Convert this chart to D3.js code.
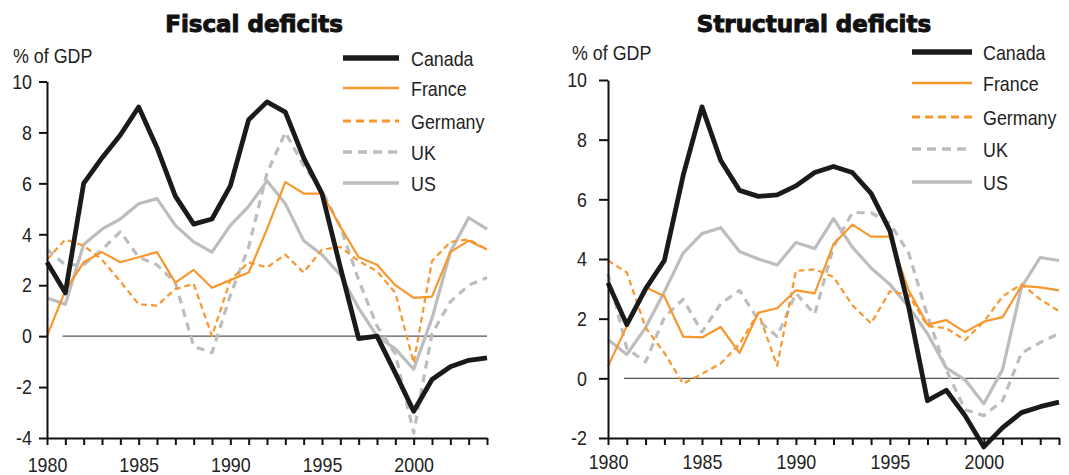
<!DOCTYPE html>
<html><head><meta charset="utf-8">
<script src="https://cdn.jsdelivr.net/npm/d3@7"></script>
<style>
body{margin:0;background:#fff}
svg text{font-family:"Liberation Sans Narrow","Arial Narrow","Liberation Sans",sans-serif;fill:#222}
</style>
</head><body>
<svg id="c" width="1069" height="475"></svg>
<script>
// ---------- data ----------
const years = d3.range(1980, 2005);
const seriesNames = ["Canada", "France", "Germany", "UK", "US"];

const fiscalCanada  = [2.9, 1.7, 6.0, 7.0, 7.9, 9.0, 7.4, 5.5, 4.4, 4.6, 5.9, 8.5, 9.2, 8.8, 7.0, 5.6, 2.7, -0.1, 0.0, -1.45, -2.95, -1.7, -1.2, -0.95, -0.85];
const fiscalFrance  = [0.0, 1.8, 2.9, 3.3, 2.9, 3.1, 3.3, 2.1, 2.6, 1.9, 2.2, 2.5, 4.2, 6.05, 5.6, 5.6, 4.3, 3.1, 2.8, 2.0, 1.5, 1.55, 3.3, 3.75, 3.4];
const fiscalGermany = [3.0, 3.8, 3.55, 3.0, 2.15, 1.25, 1.2, 1.85, 2.05, 0.0, 2.2, 2.9, 2.7, 3.2, 2.5, 3.4, 3.5, 2.95, 2.55, 1.7, -1.05, 2.95, 3.7, 3.8, 3.4];
const fiscalUK      = [3.4, 2.8, 2.8, 3.4, 4.1, 3.1, 2.8, 2.1, -0.4, -0.65, 1.6, 3.5, 6.4, 8.0, 6.7, 5.7, 4.3, 2.2, 0.4, -0.7, -3.8, 0.1, 1.35, 2.0, 2.3];
const fiscalUS      = [1.5, 1.25, 3.6, 4.2, 4.6, 5.2, 5.4, 4.35, 3.7, 3.3, 4.35, 5.1, 6.1, 5.2, 3.75, 3.2, 2.4, 1.1, 0.0, -0.5, -1.3, 0.7, 3.3, 4.65, 4.2];

const structCanada  = [3.2, 1.8, 3.0, 3.95, 6.8, 9.1, 7.3, 6.3, 6.1, 6.15, 6.45, 6.9, 7.1, 6.9, 6.2, 4.95, 2.4, -0.75, -0.4, -1.25, -2.3, -1.65, -1.15, -0.95, -0.8];
const structFrance  = [0.4, 1.75, 3.05, 2.75, 1.4, 1.37, 1.72, 0.85, 2.2, 2.35, 2.95, 2.85, 4.5, 5.15, 4.75, 4.75, 2.95, 1.8, 1.95, 1.55, 1.9, 2.05, 3.1, 3.05, 2.95];
const structGermany = [3.95, 3.55, 1.7, 0.85, -0.18, 0.15, 0.5, 1.15, 2.2, 0.42, 3.6, 3.65, 3.4, 2.45, 1.84, 2.92, 2.8, 1.75, 1.68, 1.28, 1.9, 2.75, 3.15, 2.65, 2.25];
const structUK      = [3.5, 1.0, 0.55, 2.05, 2.65, 1.55, 2.5, 2.95, 1.95, 1.4, 2.85, 2.15, 4.4, 5.55, 5.55, 5.2, 4.2, 2.1, 0.28, -1.05, -1.25, -0.75, 0.85, 1.2, 1.5];
const structUS      = [1.3, 0.8, 1.7, 2.9, 4.2, 4.85, 5.05, 4.25, 4.0, 3.8, 4.55, 4.35, 5.35, 4.4, 3.7, 3.15, 2.4, 1.5, 0.35, -0.05, -0.85, 0.3, 3.05, 4.05, 3.95];

const xTickLabels = [1980, 1985, 1990, 1995, 2000];
const fiscalYTicks = [-4, -2, 0, 2, 4, 6, 8, 10];
const structYTicks = [-2, 0, 2, 4, 6, 8, 10];
const titles = ["Fiscal deficits", "Structural deficits"];
const unitLabel = "% of GDP";

// ---------- styles ----------
const styles = {
  Canada:  {color: "#1a1a1a", width: 4.8, dash: null,  lw: 5.5},
  France:  {color: "#f7972e", width: 2.2, dash: null,  lw: 2.6},
  Germany: {color: "#f7972e", width: 2.2, dash: "6,4", lw: 3, ldash: "8,5"},
  UK:      {color: "#bdbdbd", width: 3.2, dash: "8,6", lw: 3.6, ldash: "9,6"},
  US:      {color: "#bdbdbd", width: 3.2, dash: null,  lw: 3.6}
};
const drawOrder = ["UK", "US", "Germany", "France", "Canada"];
const FS = "21px";
const SQUEEZE = 0.85;

const panels = [
  {title: titles[0], titleX: 254, titleY: 32, unitX: 13, unitY: 63,
   xl: 47, xr: 487, yt: 81.5, yb: 438, domain: [-4, 10], ticks: fiscalYTicks,
   tickLen: 8, labelGap: 15, xLabelY: 472,
   legX0: 343, legX1: 399, legTX: 411, legY: [58, 88, 121, 152, 183],
   data: {Canada: fiscalCanada, France: fiscalFrance, Germany: fiscalGermany, UK: fiscalUK, US: fiscalUS}},
  {title: titles[1], titleX: 814, titleY: 32, unitX: 572, unitY: 60,
   xl: 608, xr: 1059, yt: 80, yb: 438, domain: [-2, 10], ticks: structYTicks,
   tickLen: 9, labelGap: 21, xLabelY: 469,
   legX0: 912, legX1: 972, legTX: 983, legY: [52, 83, 117, 149, 182],
   data: {Canada: structCanada, France: structFrance, Germany: structGermany, UK: structUK, US: structUS}}
];

function squeeze(sel) {
  sel.each(function () {
    const L = this.getComputedTextLength();
    if (L > 0) d3.select(this).attr("textLength", L * SQUEEZE).attr("lengthAdjust", "spacingAndGlyphs");
  });
}

const svg = d3.select("#c");

panels.forEach(p => {
  const g = svg.append("g");
  const x = d3.scaleLinear().domain([1980, 2004]).range([p.xl, p.xr]);
  const y = d3.scaleLinear().domain(p.domain).range([p.yb, p.yt]);

  // title
  g.append("text").attr("x", p.titleX).attr("y", p.titleY)
    .attr("text-anchor", "middle")
    .style("font-family", "'DejaVu Sans', sans-serif")
    .style("font-weight", "bold").style("font-size", "23px")
    .style("fill", "#111").style("stroke", "#111").style("stroke-width", "1px")
    .text(p.title);

  // unit label
  g.append("text").attr("x", p.unitX).attr("y", p.unitY)
    .style("font-size", FS).text(unitLabel).call(squeeze);

  // zero line
  g.append("line")
    .attr("x1", x(1980.85)).attr("x2", x(2004))
    .attr("y1", y(0)).attr("y2", y(0))
    .attr("stroke", "#555").attr("stroke-width", 1.3);

  // series
  drawOrder.forEach(name => {
    const s = styles[name];
    const line = d3.line().x((d, i) => x(years[i])).y(d => y(d));
    g.append("path").datum(p.data[name])
      .attr("d", line).attr("fill", "none")
      .attr("stroke", s.color).attr("stroke-width", s.width)
      .attr("stroke-linejoin", "round")
      .attr("stroke-dasharray", s.dash);
  });

  // y axis
  const yAxis = d3.axisLeft(y).tickValues(p.ticks).tickSize(p.tickLen)
    .tickPadding(p.labelGap - p.tickLen).tickSizeOuter(0);
  const ya = g.append("g").attr("transform", `translate(${p.xl},0)`).call(yAxis);
  ya.select(".domain").attr("stroke", "#111").attr("stroke-width", 2);
  ya.selectAll(".tick line").attr("stroke", "#111").attr("stroke-width", 2);
  ya.selectAll(".tick text").style("font-size", FS).attr("fill", "#222")
    .style("font-family", "'Liberation Sans Narrow','Arial Narrow','Liberation Sans',sans-serif")
    .text(d => d).call(squeeze);

  // x axis (minor year ticks + labels)
  const xAxis = d3.axisBottom(x).tickValues(years).tickSize(7).tickSizeOuter(0)
    .tickFormat(d => xTickLabels.includes(d) ? d : "");
  const xa = g.append("g").attr("transform", `translate(0,${p.yb})`).call(xAxis);
  xa.select(".domain").attr("stroke", "#111").attr("stroke-width", 2);
  xa.selectAll(".tick line").attr("stroke", "#111").attr("stroke-width", 2);
  xa.selectAll(".tick text").style("font-size", FS).attr("fill", "#222")
    .style("font-family", "'Liberation Sans Narrow','Arial Narrow','Liberation Sans',sans-serif")
    .attr("y", p.xLabelY - p.yb).attr("dy", 0).call(squeeze);

  // legend
  seriesNames.forEach((name, i) => {
    const s = styles[name];
    const ly = p.legY[i];
    g.append("line").attr("x1", p.legX0).attr("x2", p.legX1)
      .attr("y1", ly).attr("y2", ly)
      .attr("stroke", s.color).attr("stroke-width", s.lw)
      .attr("stroke-dasharray", s.ldash || null);
    g.append("text").attr("x", p.legTX).attr("y", ly + 7.5)
      .style("font-size", FS).text(name).call(squeeze);
  });
});
</script>
</body></html>
